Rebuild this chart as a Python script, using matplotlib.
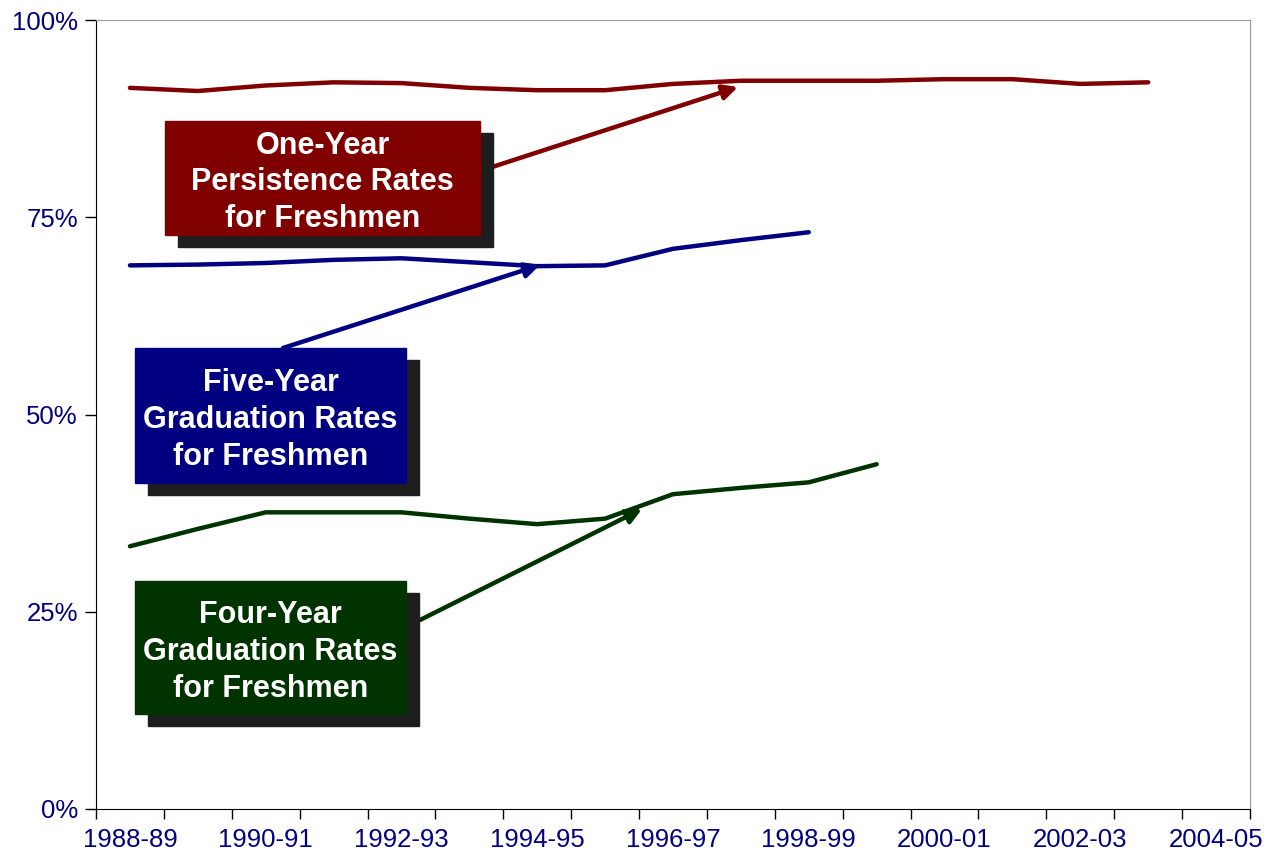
import matplotlib
matplotlib.use('Agg')
import matplotlib.pyplot as plt
from matplotlib.patches import Rectangle
import numpy as np

plt.rcParams['font.family'] = ['Liberation Sans', 'DejaVu Sans']

years = ['1988-89', '1989-90', '1990-91', '1991-92', '1992-93', '1993-94',
         '1994-95', '1995-96', '1996-97', '1997-98', '1998-99', '1999-00',
         '2000-01', '2001-02', '2002-03', '2003-04', '2004-05']

# values in percent
one_year = [91.4, 91.0, 91.7, 92.1, 92.0, 91.4, 91.1, 91.1, 91.9, 92.3,
            92.3, 92.3, 92.5, 92.5, 91.9, 92.1]
five_year = [68.9, 69.0, 69.2, 69.6, 69.8, 69.3, 68.8, 68.9, 71.0, 72.1, 73.1]
four_year = [33.3, 35.5, 37.6, 37.6, 37.6, 36.8, 36.1, 36.8, 39.9, 40.7,
             41.4, 43.7]

y_ticks = [0, 25, 50, 75, 100]

RED = '#800000'
BLUE = '#000080'
GREEN = '#003300'
TXT = '#000080'

W, H = 1268, 859
fig = plt.figure(figsize=(W / 100, H / 100), dpi=100)
ax = fig.add_axes([96 / W, 1 - 809 / H, (1250 - 96) / W, (809 - 20) / H])


def px(x, y):
    # figure pixel (from top-left) -> figure fraction
    return (x / W, 1 - y / H)


ax.plot(range(len(one_year)), one_year, color=RED, lw=3.2, solid_capstyle='round')
ax.plot(range(len(five_year)), five_year, color=BLUE, lw=3.2, solid_capstyle='round')
ax.plot(range(len(four_year)), four_year, color=GREEN, lw=3.2, solid_capstyle='round')

ax.set_xlim(-0.5, len(years) - 0.5)
ax.set_ylim(0, 100)

# tick marks between categories, labels on every other category
ax.set_xticks(np.arange(-0.5, len(years), 1.0))
ax.set_xticklabels([])
ax.set_xticks(range(0, len(years), 2), minor=True)
ax.set_xticklabels(years[::2], minor=True)
ax.tick_params(axis='x', which='major', length=7, width=1, direction='out')
ax.tick_params(axis='x', which='minor', length=0, pad=14, labelsize=18.5,
               labelcolor=TXT)

ax.set_yticks(y_ticks)
ax.set_yticklabels([f'{v}%' for v in y_ticks])
ax.tick_params(axis='y', length=8, width=1, direction='out', pad=5,
               labelsize=18.5, labelcolor=TXT)

ax.spines['left'].set_color('black')
ax.spines['bottom'].set_color('black')
ax.spines['top'].set_color('#999999')
ax.spines['right'].set_color('#999999')

boxes = [
    (165, 121, 480, 235, RED, 'One-Year\nPersistence Rates\nfor Freshmen'),
    (135, 348, 406, 483, BLUE, 'Five-Year\nGraduation Rates\nfor Freshmen'),
    (135, 581, 406, 714, GREEN, 'Four-Year\nGraduation Rates\nfor Freshmen'),
]
for x0, y0, x1, y1, col, label in boxes:
    sx, sy = px(x0 + 13, y1 + 12)
    fig.add_artist(Rectangle((sx, sy), (x1 - x0) / W, (y1 - y0) / H,
                             transform=fig.transFigure, color='#1e1e1e',
                             zorder=5))
    bx, by = px(x0, y1)
    fig.add_artist(Rectangle((bx, by), (x1 - x0) / W, (y1 - y0) / H,
                             transform=fig.transFigure, color=col, zorder=6))
    fig.text((x0 + x1) / 2 / W, 1 - (y0 + y1 + 9) / 2 / H, label, color='white',
             fontsize=22, fontweight='bold', ha='center', va='center',
             linespacing=1.3, zorder=7)

arrows = [
    ((483, 170), (738, 87), RED),
    ((283, 348), (540, 265), BLUE),
    ((420, 620), (642, 509), GREEN),
]
for start, end, col in arrows:
    ax.annotate('', xy=px(*end), xytext=px(*start), xycoords='figure fraction',
                textcoords='figure fraction',
                arrowprops=dict(arrowstyle='-|>', color=col, lw=3.2,
                                mutation_scale=22, shrinkA=0, shrinkB=0),
                zorder=8)

fig.savefig('out.png', dpi=100)
